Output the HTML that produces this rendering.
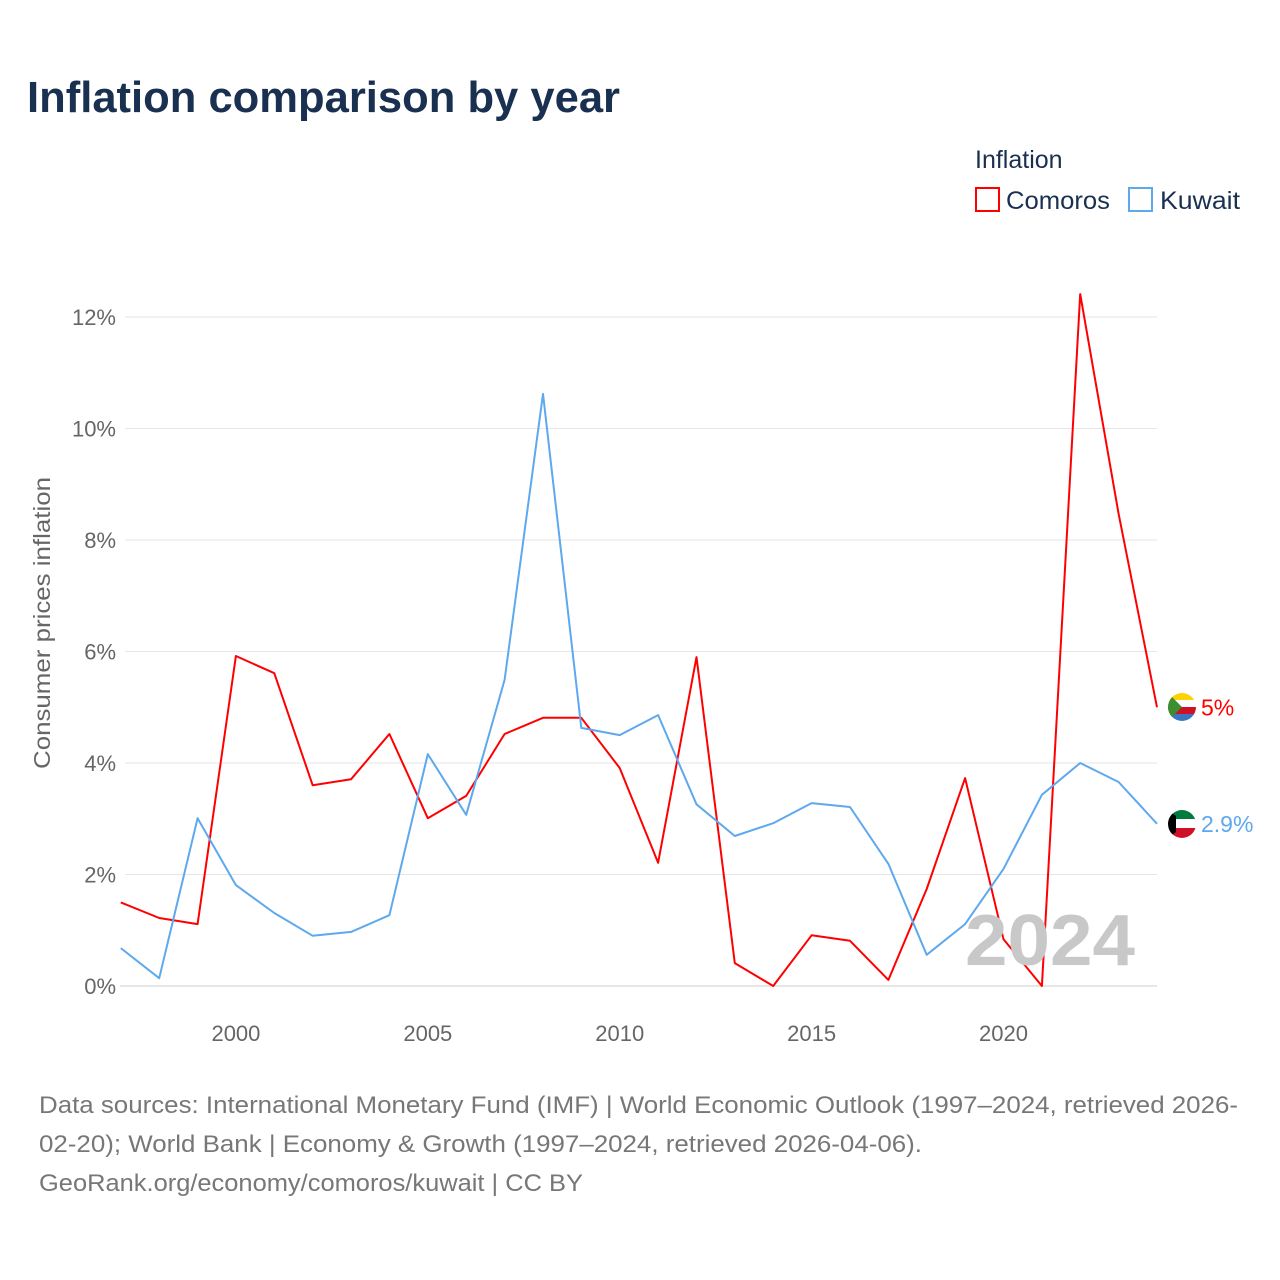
<!DOCTYPE html>
<html><head><meta charset="utf-8"><style>
body{margin:0;background:#fff;font-family:"Liberation Sans",sans-serif;}
#wrap{position:relative;width:1280px;height:1280px;overflow:hidden;}
</style></head><body>
<div id="wrap">
<svg id="chart" width="1280" height="1280">
<defs>
<clipPath id="c1"><circle cx="1182" cy="707" r="14"/></clipPath>
<clipPath id="c2"><circle cx="1182" cy="824" r="14"/></clipPath>
</defs>
<text x="27" y="112" font-size="44" font-weight="bold" fill="#1a3050" textLength="593" lengthAdjust="spacingAndGlyphs">Inflation comparison by year</text>
<text x="975" y="168" font-size="25" fill="#1a3050">Inflation</text>
<g><rect x="976" y="188" width="23" height="23" fill="none" stroke="#ff0000" stroke-width="2"/><text x="1006" y="209" font-size="25" fill="#1a3050" textLength="104" lengthAdjust="spacingAndGlyphs">Comoros</text></g>
<g><rect x="1129" y="188" width="23" height="23" fill="none" stroke="#5ea8ee" stroke-width="2"/><text x="1160" y="209" font-size="25" fill="#1a3050" textLength="80" lengthAdjust="spacingAndGlyphs">Kuwait</text></g>
<text transform="translate(50,623) rotate(-90)" text-anchor="middle" font-size="23" fill="#666" textLength="292" lengthAdjust="spacingAndGlyphs">Consumer prices inflation</text>
<g id="grid"></g><g id="lines"></g>
<g clip-path="url(#c1)">
<rect x="1168" y="693" width="28" height="7" fill="#ffd100"/><rect x="1168" y="700" width="28" height="7" fill="#fff"/><rect x="1168" y="707" width="28" height="7" fill="#ce1126"/><rect x="1168" y="714" width="28" height="7" fill="#3a75c4"/><polygon points="1168,693 1182,707 1168,721" fill="#3d8e33"/>
</g>
<g clip-path="url(#c2)">
<rect x="1168" y="810" width="28" height="10" fill="#007a3d"/><rect x="1168" y="819" width="28" height="10" fill="#fff"/><rect x="1168" y="828" width="28" height="10" fill="#ce1126"/><polygon points="1168,810 1176,816 1176,832 1168,838" fill="#000"/>
</g>
<text x="1135" y="965" text-anchor="end" font-size="72" font-weight="bold" fill="#c8c8c8" textLength="170" lengthAdjust="spacingAndGlyphs">2024</text>
<g font-size="24" fill="#777">
<text x="39" y="1113" textLength="1199" lengthAdjust="spacingAndGlyphs">Data sources: International Monetary Fund (IMF) | World Economic Outlook (1997–2024, retrieved 2026-</text>
<text x="39" y="1152" textLength="883" lengthAdjust="spacingAndGlyphs">02-20); World Bank | Economy &amp; Growth (1997–2024, retrieved 2026-04-06).</text>
<text x="39" y="1191" textLength="544" lengthAdjust="spacingAndGlyphs">GeoRank.org/economy/comoros/kuwait | CC BY</text>
</g>
</svg></div>
<script>
const years=[1997,1998,1999,2000,2001,2002,2003,2004,2005,2006,2007,2008,2009,2010,2011,2012,2013,2014,2015,2016,2017,2018,2019,2020,2021,2022,2023,2024];
const comoros=[1.5,1.22,1.11,5.92,5.61,3.6,3.71,4.52,3.01,3.41,4.52,4.81,4.81,3.91,2.21,5.9,0.41,0,0.91,0.81,0.11,1.74,3.73,0.84,0,12.41,8.47,5.0];
const kuwait=[0.68,0.14,3.01,1.81,1.31,0.9,0.97,1.27,4.16,3.07,5.49,10.62,4.63,4.5,4.86,3.26,2.69,2.92,3.28,3.21,2.19,0.56,1.11,2.1,3.43,4.0,3.66,2.91];
const yTicks=[0,2,4,6,8,10,12];
const xTicks=[2000,2005,2010,2015,2020];
const NS="http://www.w3.org/2000/svg";
const X=y=>120.8+(y-1997)*(1157-120.8)/27;
const Y=v=>986-v*55.75;
function el(t,a,p){const e=document.createElementNS(NS,t);for(const k in a)e.setAttribute(k,a[k]);p.appendChild(e);return e;}
const grid=document.getElementById('grid'),lines=document.getElementById('lines');
yTicks.forEach(v=>{
 const l=el('line',{x1:125,x2:1157,y1:Y(v),y2:Y(v),stroke:'#e6e6e6','stroke-width':1},grid);
 
 
 const t=el('text',{x:116,y:Y(v)+8,'text-anchor':'end','font-size':22,fill:'#666'},grid);
 t.textContent=v+'%';
 
 
});
const ax=el('line',{x1:120,x2:1157,y1:Y(0),y2:Y(0),stroke:'#ccc'},grid);


xTicks.forEach(y=>{
 const t=el('text',{x:X(y),y:1041,'text-anchor':'middle','font-size':22,fill:'#666'},grid);
 t.textContent=y;
 
 
});
function series(vals,color,name,label){
 const d=vals.map((v,i)=>(i?'L':'M')+X(years[i]).toFixed(1)+','+Y(v).toFixed(1)).join('');
 const p=el('path',{d:d,fill:'none',stroke:color,'stroke-width':2,'stroke-linejoin':'round'},lines);
 
 
 const last=vals[vals.length-1],yy=Y(last);
 const t=el('text',{x:1201,y:yy+8,'font-size':23,fill:color},lines);
 t.textContent=label;
 
 
}
series(comoros,'#ff0000','comoros','5%');
series(kuwait,'#5ea8ee','kuwait','2.9%');
</script>
</body></html>
